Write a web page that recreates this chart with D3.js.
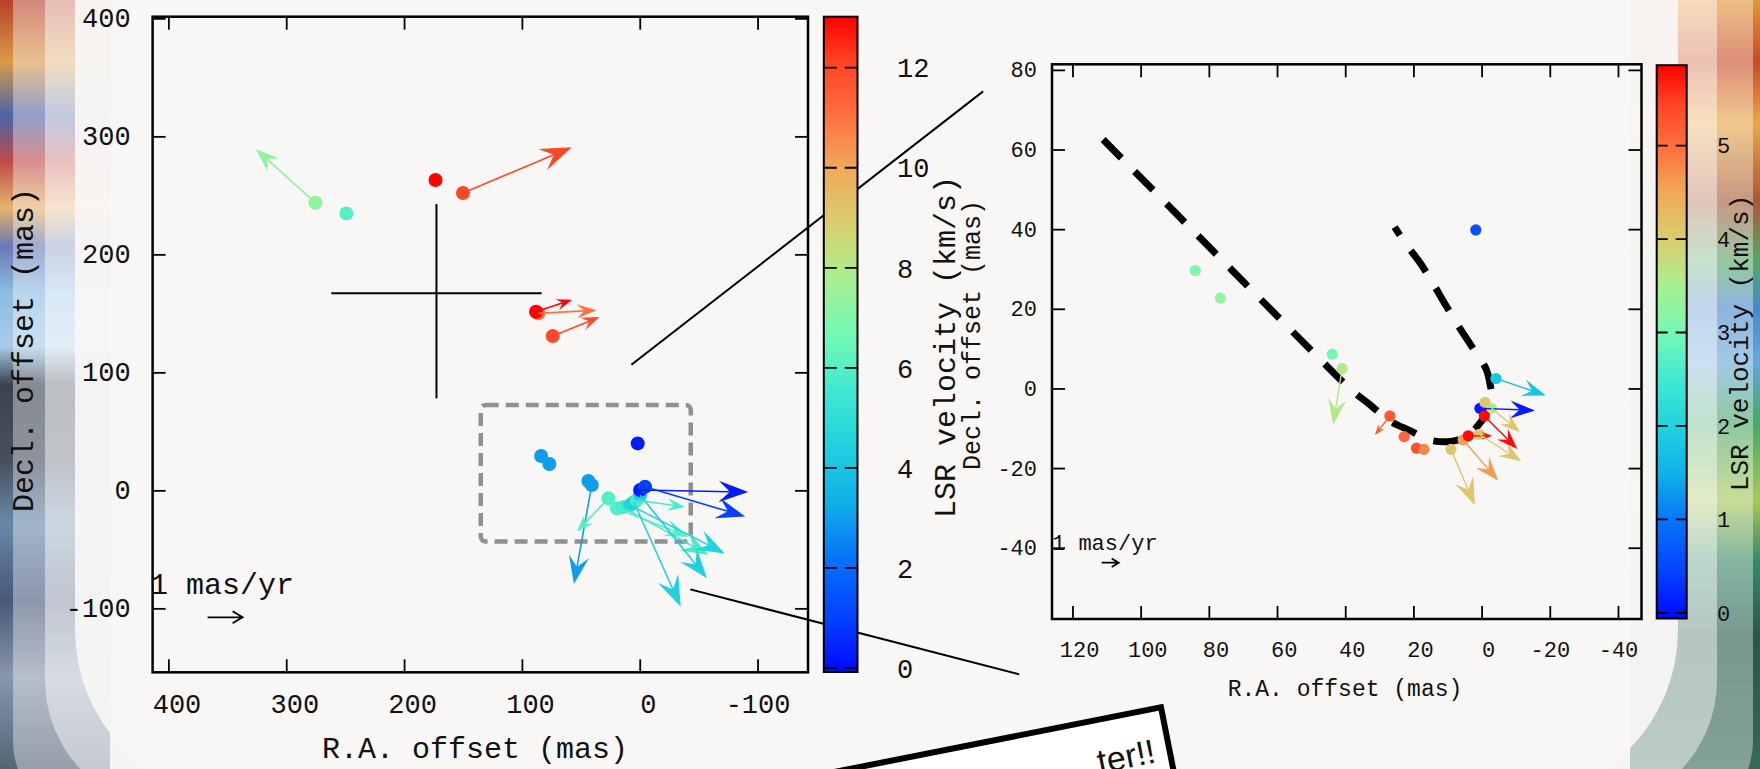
<!DOCTYPE html>
<html>
<head>
<meta charset="utf-8">
<script src="https://cdn.jsdelivr.net/npm/d3@7"></script>
<style>
  html, body { margin: 0; padding: 0; background: #efebe9; overflow: hidden; }
  svg { display: block; }
  text { font-family: 'Liberation Mono', 'DejaVu Sans Mono', monospace; fill: #111; }
</style>
</head>
<body>
<svg id="chart" width="1760" height="769"></svg>
<script>
// WIDE FIELD (LEFT PANEL) SPOTS: R.A. / Decl. offsets (mas), LSR velocity (km/s), proper motion (mas/yr)
const wideRa    = [275.2, 249.0, 173.3, 150.0, 86.0, 88.0, 73.8, 1.7, 83.7, 76.7, 43.6, 40.7, 26.6, 19.5, 14.4, 8.2, 5.0, 2.5, -0.3, -0.3, -4.5]
const wideDec   = [243.7, 234.7, 263.0, 252.0, 150.0, 151.4, 130.8, 39.8, 29.1, 22.3, 7.9, 4.5, -6.8, -15.3, -14.4, -12.5, -10.0, -8.2, -4.0, 0.3, 3.1]
const wideVel   = [7.3, 6.0, 13.0, 12.0, 11.0, 13.0, 12.0, 0.3, 3.0, 3.0, 3.0, 3.0, 6.0, 6.0, 5.7, 4.5, 4.4, 5.8, 4.3, 0.3, 1.0]
const widePmRa  = [1.71, null, null, -3.11, -1.66, -1.03, -1.34, null, null, null, null, 0.51, 0.90, -2.05, -2.45, -2.71, -1.34, -1.38, -1.91, -3.09, -2.86]
const widePmDec = [1.54, null, null, 1.31, 0.09, 0.34, 0.54, null, null, null, null, -2.83, -0.95, -0.81, -1.36, -1.38, -2.99, -0.20, -2.38, -0.06, -0.85]

// ZOOMED FIELD (RIGHT PANEL) SPOTS
const zoomRa    = [84.0, 76.6, 1.7, 43.8, 40.9, 26.9, 22.7, 19.1, 16.9, 9.0, 5.4, 3.9, 0.7, 0.5, -1.0, -2.9, -0.8, -4.2]
const zoomDec   = [29.6, 22.7, 39.8, 8.6, 5.0, -6.9, -12.1, -15.0, -15.3, -15.3, -12.9, -11.9, -11.5, -5.0, -3.5, -5.0, -6.9, 2.5]
const zoomVel   = [3.1, 3.3, 0.6, 3.0, 3.6, 5.2, 5.1, 5.3, 4.8, 4.1, 4.6, 5.8, 4.1, 0.1, 4.1, 3.5, 5.8, 1.8]
const zoomPmRa  = [null, null, null, null, 0.53, 0.88, null, null, null, -1.41, -2.06, -1.41, -2.47, -3.24, -2.06, null, -1.94, -2.94]
const zoomPmDec = [null, null, null, null, -3.29, -1.12, null, null, null, -3.29, -2.41, 0.00, -1.59, -0.12, -1.76, null, -1.94, -1.00]

// MODEL CURVE IN THE RIGHT PANEL (mas)
const curveRa  = [111, 90, 70, 50, 38, 33, 27, 21, 15, 9, 5, 1.5, -1.5, -3, -2.5, -1.3, 3, 6.5, 10.5, 14, 18, 22, 25.5]
const curveDec = [62.5, 44.3, 26.9, 9.6, -0.5, -3.9, -8.1, -10.6, -13, -13.3, -12.3, -9.8, -6, -2.5, 1, 4.9, 10.7, 15.3, 20.9, 26, 31.5, 36, 40.5]

// TICKS
const wideXTicks = [400, 300, 200, 100, 0, -100]
const wideYTicks = [400, 300, 200, 100, 0, -100]
const wideVelTicks = [0, 2, 4, 6, 8, 10, 12]
const zoomXTicks = [120, 100, 80, 60, 40, 20, 0, -20, -40]
const zoomYTicks = [80, 60, 40, 20, 0, -20, -40]
const zoomVelTicks = [0, 1, 2, 3, 4, 5]

// AXIS RANGES
const wideRaRange = [413.4, -142.8]
const wideDecRange = [-154.2, 401.4]
const wideVelRange = [-0.08, 13.02]
const zoomRaRange = [126, -46.9]
const zoomDecRange = [-57.9, 81.4]
const zoomVelRange = [-0.06, 5.86]

// ANNOTATIONS: cross (mas), zoom box (mas)
const crossRaSpan = [261.7, 83.3]
const crossDecAt = 167
const crossRaAt = 172.5
const crossDecSpan = [242.6, 78.0]
const boxRaSpan = [134.9, -43.3]
const boxDecSpan = [72.3, -43.4]

// PALETTE
const paletteT = [0, 0.08, 0.17, 0.26, 0.34, 0.43, 0.51, 0.6, 0.68, 0.77, 0.85, 0.93, 1]
const paletteColors = ['#0008ff', '#0440ff', '#0870f8', '#10b0e8', '#20d0e0', '#40e8d0', '#70f8b8',
                       '#a8f090', '#d8d070', '#f0a858', '#ff7040', '#ff4424', '#ff0000']

const makeColor = ([lo, hi]) => d3.scaleLinear()
    .domain(paletteT.map(t => lo + t * (hi - lo)))
    .range(paletteColors)
    .clamp(true)

const svg = d3.select('#chart')
const defs = svg.append('defs')

// BACKGROUND (painted slide edges)
const leftPaintStops = [[0, '#b8402c'], [0.08, '#d89a48'], [0.15, '#4a64a8'], [0.21, '#c04a48'], [0.27, '#e4b46c'],
    [0.32, '#6a78b4'], [0.38, '#8cbce0'], [0.45, '#a8cce8'], [0.5, '#3a4450'], [0.6, '#48505e'],
    [0.68, '#6888a8'], [0.78, '#485878'], [0.88, '#8898a8'], [1, '#546474']]
const rightPaintStops = [[0, '#e09838'], [0.08, '#c84a28'], [0.16, '#e8a848'], [0.26, '#a85838'], [0.34, '#58a868'],
    [0.4, '#4888c8'], [0.47, '#68a8d8'], [0.55, '#48a868'], [0.65, '#a8c858'], [0.73, '#388868'],
    [0.83, '#285848'], [1, '#386858']]

const addVertical = (id, stops) => {
    const grad = defs.append('linearGradient').attr('id', id)
        .attr('x1', 0).attr('y1', 0).attr('x2', 0).attr('y2', 1)
    stops.forEach(([o, c]) => grad.append('stop').attr('offset', o).attr('stop-color', c))
}
addVertical('paint-left', leftPaintStops)
addVertical('paint-right', rightPaintStops)

svg.append('rect').attr('x', 0).attr('y', 0).attr('width', 1760).attr('height', 769).attr('fill', '#e6e1de')
svg.append('rect').attr('x', 0).attr('y', 0).attr('width', 110).attr('height', 769).attr('fill', 'url(#paint-left)')
svg.append('rect').attr('x', 1630).attr('y', 0).attr('width', 130).attr('height', 769).attr('fill', 'url(#paint-right)')

svg.append('rect').attr('x', 13).attr('y', -400).attr('width', 1740).attr('height', 1230)
   .attr('rx', 90).attr('fill', '#ffffff').attr('opacity', 0.38)
svg.append('rect').attr('x', 45).attr('y', -400).attr('width', 1672).attr('height', 1210)
   .attr('rx', 130).attr('fill', '#ffffff').attr('opacity', 0.45)
svg.append('rect').attr('x', 75).attr('y', -400).attr('width', 1603).attr('height', 1200)
   .attr('rx', 170).attr('fill', '#f8f6f5').attr('opacity', 0.93)

// SCALES
const xWide = d3.scaleLinear().domain(wideRaRange).range([152.6, 808])
const yWide = d3.scaleLinear().domain(wideDecRange).range([672.3, 16.7])
const xZoom = d3.scaleLinear().domain(zoomRaRange).range([1052, 1641.5])
const yZoom = d3.scaleLinear().domain(zoomDecRange).range([619, 64.3])
const vWide = d3.scaleLinear().domain(wideVelRange).range([672, 16.7])
const vZoom = d3.scaleLinear().domain(zoomVelRange).range([618.5, 65.2])
const colorWide = makeColor(wideVelRange)
const colorZoom = makeColor(zoomVelRange)
const pmWide = d3.scaleLinear().domain([0, 1]).range([0, 35])
const pmZoom = d3.scaleLinear().domain([0, 1]).range([0, 17])

// CONNECTOR LINES BETWEEN PANELS
svg.append('line')
   .attr('x1', xWide(7.1)).attr('y1', yWide(106.4))
   .attr('x2', xZoom(146.2)).attr('y2', yZoom(74.6))
   .attr('stroke', '#000').attr('stroke-width', 2)
svg.append('line')
   .attr('x1', xWide(-42.9)).attr('y1', yWide(-83.9))
   .attr('x2', xZoom(135.6)).attr('y2', yZoom(-71.8))
   .attr('stroke', '#000').attr('stroke-width', 2)

// FRAME + MIRRORED INWARD TICKS
const drawAxes = (x, y, xTicks, yTicks, fontSize, padX, padY) => {
    const fmt = d => (d >= 0 ? '\u00a0' : '') + d
    const [xl, xr] = x.range()
    const [yb, yt] = y.range()
    const groups = [
        svg.append('g').attr('transform', 'translate(0,' + yb + ')')
           .call(d3.axisBottom(x).tickValues(xTicks).tickSize(-13).tickPadding(padX).tickFormat(fmt)),
        svg.append('g').attr('transform', 'translate(0,' + yt + ')')
           .call(d3.axisTop(x).tickValues(xTicks).tickSize(-13).tickFormat('')),
        svg.append('g').attr('transform', 'translate(' + xl + ',0)')
           .call(d3.axisLeft(y).tickValues(yTicks).tickSize(-13).tickPadding(padY).tickFormat(d => '' + d)),
        svg.append('g').attr('transform', 'translate(' + xr + ',0)')
           .call(d3.axisRight(y).tickValues(yTicks).tickSize(-13).tickFormat(''))
    ]
    groups.forEach(g => {
        g.attr('font-family', null).attr('font-size', fontSize)
        g.select('.domain').remove()
        g.selectAll('.tick line').attr('stroke', '#000').attr('stroke-width', 1.8)
        g.selectAll('.tick text').style('fill', '#111')
    })
    svg.append('rect')
       .attr('x', xl).attr('y', yt).attr('width', xr - xl).attr('height', yb - yt)
       .attr('fill', 'none').attr('stroke', '#000').attr('stroke-width', 2.5)
}

drawAxes(xWide, yWide, wideXTicks, wideYTicks, 27, 22, 22)
drawAxes(xZoom, yZoom, zoomXTicks, zoomYTicks, 22, 22, 15)

// COLOUR BARS
const drawColorbar = (id, x0, w, v, ticks, labelX, fontSize, dash) => {
    const grad = defs.append('linearGradient').attr('id', id)
        .attr('x1', 0).attr('y1', 1).attr('x2', 0).attr('y2', 0)
    paletteT.forEach((t, i) => grad.append('stop').attr('offset', t).attr('stop-color', paletteColors[i]))
    const [yb, yt] = v.range()
    svg.append('rect').attr('x', x0).attr('y', yt).attr('width', w).attr('height', yb - yt)
       .attr('fill', 'url(#' + id + ')').attr('stroke', '#000').attr('stroke-width', 2)
    svg.append('g').selectAll('line').data(ticks).enter().append('line')
       .attr('x1', x0).attr('x2', x0 + w)
       .attr('y1', d => v(d)).attr('y2', d => v(d))
       .attr('stroke', '#000').attr('stroke-width', 1.8).attr('stroke-dasharray', dash)
    svg.append('g').selectAll('text').data(ticks).enter().append('text')
       .attr('x', labelX).attr('y', d => v(d)).attr('dy', '0.36em')
       .attr('font-size', fontSize).text(d => d)
}

drawColorbar('bar-wide', 823.8, 33.7, vWide, wideVelTicks, 897, 27, '13 8')
drawColorbar('bar-zoom', 1656.7, 30, vZoom, zoomVelTicks, 1717, 22, '11 8')

// AXIS TITLES
const title = (x, y, size, txt, rotate) => {
    const t = svg.append('text').attr('font-size', size).attr('text-anchor', 'middle').text(txt)
    if (rotate) t.attr('transform', 'translate(' + x + ',' + y + ') rotate(-90)')
    else t.attr('x', x).attr('y', y)
}
title(475, 758, 30, 'R.A. offset (mas)', false)
title(33, 350, 30, 'Decl. offset (mas)', true)
title(955, 347, 30, 'LSR velocity (km/s)', true)
title(980, 335, 25, 'Decl. offset (mas)', true)
title(1345, 696, 23, 'R.A. offset (mas)', false)
title(1748, 343, 26, 'LSR velocity (km/s)', true)

// CROSS AND ZOOM BOX IN LEFT PANEL
svg.append('line')
   .attr('x1', xWide(crossRaSpan[0])).attr('x2', xWide(crossRaSpan[1]))
   .attr('y1', yWide(crossDecAt)).attr('y2', yWide(crossDecAt))
   .attr('stroke', '#000').attr('stroke-width', 2)
svg.append('line')
   .attr('x1', xWide(crossRaAt)).attr('x2', xWide(crossRaAt))
   .attr('y1', yWide(crossDecSpan[0])).attr('y2', yWide(crossDecSpan[1]))
   .attr('stroke', '#000').attr('stroke-width', 2)
svg.append('rect')
   .attr('x', xWide(boxRaSpan[0])).attr('y', yWide(boxDecSpan[0]))
   .attr('width', xWide(boxRaSpan[1]) - xWide(boxRaSpan[0]))
   .attr('height', yWide(boxDecSpan[1]) - yWide(boxDecSpan[0]))
   .attr('rx', 5)
   .attr('fill', 'none').attr('stroke', '#909090').attr('stroke-width', 4.5)
   .attr('stroke-dasharray', '13 7')

// MODEL CURVE
svg.append('path')
   .datum(d3.range(curveRa.length))
   .attr('d', d3.line().x(i => xZoom(curveRa[i])).y(i => yZoom(curveDec[i])).curve(d3.curveCatmullRom.alpha(0.5)))
   .attr('fill', 'none').attr('stroke', '#000').attr('stroke-width', 7)
   .attr('stroke-dasharray', '26 19')

// ARROW WITH FILLED, NOTCHED HEAD
const arrow = (g, x0, y0, x1, y1, color, h, shaftW) => {
    const dx = x1 - x0
    const dy = y1 - y0
    const len = Math.hypot(dx, dy)
    const ux = dx / len
    const uy = dy / len
    const w = h * 0.36
    const bx = x1 - ux * h
    const by = y1 - uy * h
    const nx = x1 - ux * h * 0.62
    const ny = y1 - uy * h * 0.62
    g.append('line').attr('x1', x0).attr('y1', y0).attr('x2', nx).attr('y2', ny)
     .attr('stroke', color).attr('stroke-width', shaftW)
    g.append('path')
     .attr('d', 'M' + x1 + ',' + y1 + 'L' + (bx - uy * w) + ',' + (by + ux * w) +
                'L' + nx + ',' + ny + 'L' + (bx + uy * w) + ',' + (by - ux * w) + 'Z')
     .attr('fill', color)
}

// SPOTS + PROPER MOTIONS
const drawSpots = (ra, dec, vel, pmRa, pmDec, x, y, color, pm, r, headOf, shaftW) => {
    const spots = d3.range(ra.length).map(i => ({ ra: ra[i], dec: dec[i], vel: vel[i], pmRa: pmRa[i], pmDec: pmDec[i] }))
    const g = svg.append('g')
    g.selectAll('circle').data(spots).enter().append('circle')
     .attr('cx', d => x(d.ra)).attr('cy', d => y(d.dec)).attr('r', r)
     .attr('fill', d => color(d.vel))
    spots.filter(d => d.pmRa !== null).forEach(d => {
        const x0 = x(d.ra)
        const y0 = y(d.dec)
        const x1 = x0 - pm(d.pmRa)
        const y1 = y0 - pm(d.pmDec)
        arrow(g, x0, y0, x1, y1, color(d.vel), headOf(Math.hypot(x1 - x0, y1 - y0)), shaftW)
    })
}

drawSpots(wideRa, wideDec, wideVel, widePmRa, widePmDec, xWide, yWide, colorWide, pmWide, 7,
          len => Math.min(32, 8 + 0.2 * len), 1.6)
drawSpots(zoomRa, zoomDec, zoomVel, zoomPmRa, zoomPmDec, xZoom, yZoom, colorZoom, pmZoom, 5.6,
          len => Math.min(30, 0.45 * len), 1.4)

// 1 mas/yr KEYS
const key = (tx, ty, size, ax, ay, pm, barb) => {
    svg.append('text').attr('x', tx).attr('y', ty).attr('font-size', size).text('1 mas/yr')
    const ex = ax + pm(1)
    svg.append('path')
       .attr('d', 'M' + ax + ',' + ay + 'H' + ex +
                  'M' + (ex - barb) + ',' + (ay - barb * 0.6) + 'L' + ex + ',' + ay + 'L' + (ex - barb) + ',' + (ay + barb * 0.6))
       .attr('fill', 'none').attr('stroke', '#000').attr('stroke-width', 1.8)
}
key(150, 594, 30, 207.6, 617.3, pmWide, 10)
key(1052, 550, 22, 1101.7, 562.7, pmZoom, 7)

// ROTATED NOTE BOX AT THE BOTTOM
const note = svg.append('g').attr('transform', 'translate(1161,707.3) rotate(-11.2)')
note.append('rect').attr('x', -440).attr('y', 0).attr('width', 440).attr('height', 150)
    .attr('fill', '#ffffff').attr('stroke', '#000').attr('stroke-width', 6)
note.append('text').attr('x', -73).attr('y', 53)
    .style('font-family', "'Liberation Sans', Arial, sans-serif").attr('font-size', 34)
    .text('ter!!')
</script>
</body>
</html>
